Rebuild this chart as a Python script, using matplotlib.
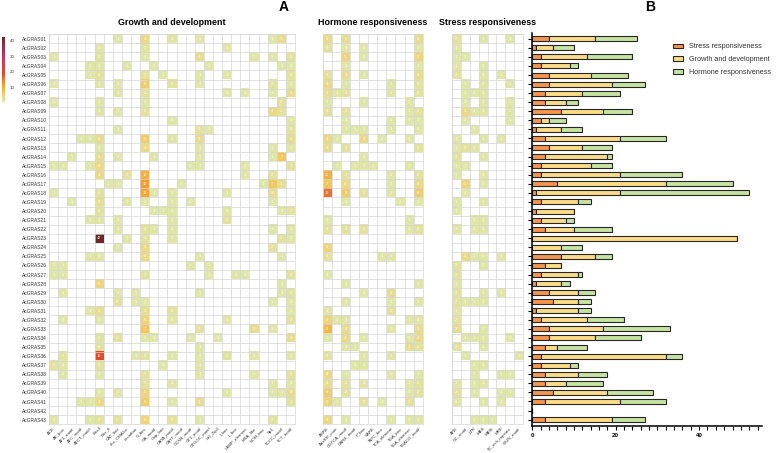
import numpy as np
import matplotlib
matplotlib.use('Agg')
import matplotlib.pyplot as plt
from matplotlib.colors import LinearSegmentedColormap, Normalize
from matplotlib.cm import ScalarMappable
from matplotlib.patches import Patch

plt.rcParams['font.family'] = ['Liberation Sans', 'DejaVu Sans']

genes = ['AcGRAS%02d' % i for i in range(1, 44)]

growth_motifs = ['ACE', 'AE_box', 'AT1_motif', 'ATC_motif', 'ATCT_motif', 'Box4',
                 'Box_II', 'CAT_box', 'chs_CMA1a', 'circadian', 'G_box', 'GA_motif',
                 'Gap_box', 'GATA_motif', 'GATT_motif', 'GCN4_motif', 'GT1_motif',
                 'GTGGC_motif', 'HD_Zip1', 'I_box', 'L_box', 'LAMP_element',
                 'MSA_like', 'NON_box', 'Sp1', 'TCCC_motif', 'TCT_motif']
hormone_motifs = ['ABRE', 'AuxRR_core', 'CGTCA_motif', 'GARE_motif', 'P_box', 'SARE',
                  'TATC_box', 'TCA_element', 'TGA_box', 'TGA_element', 'TGACG_motif']
stress_motifs = ['ARE', 'GC_motif', 'LTR', 'MBS', 'MBSI', 'MRE',
                 'TC_rich_repeats', 'WUN_motif']

# non-zero cells per gene, {column index: count}
growth_cells = [
    {7: 1, 10: 4, 13: 1, 16: 1, 24: 1, 25: 3},
    {5: 1, 10: 2, 19: 1},
    {0: 1, 5: 2, 10: 1, 16: 3, 22: 1, 24: 1, 26: 2},
    {4: 1, 5: 1, 8: 1, 11: 1, 17: 1, 25: 1, 26: 1},
    {4: 1, 5: 2, 10: 2, 12: 1, 16: 1, 19: 1, 26: 2},
    {0: 1, 5: 1, 7: 1, 10: 6, 13: 2, 16: 1, 24: 2, 26: 1},
    {7: 1, 10: 2, 19: 1, 21: 1, 24: 1, 26: 3},
    {0: 1, 5: 1, 10: 1, 25: 2},
    {5: 1, 7: 1, 10: 2, 24: 4, 25: 2},
    {13: 1, 26: 1},
    {7: 1, 16: 2, 17: 1, 26: 2},
    {3: 1, 4: 1, 5: 3, 10: 6, 13: 1, 16: 3, 26: 3},
    {5: 1, 10: 4, 16: 1, 24: 1, 26: 1},
    {2: 1, 5: 3, 7: 1, 11: 1, 16: 1, 24: 1, 25: 7},
    {0: 1, 1: 1, 4: 1, 5: 4, 15: 1, 16: 1, 21: 1, 26: 2},
    {5: 4, 8: 2, 10: 10, 21: 1, 24: 2},
    {6: 1, 7: 1, 10: 12, 14: 1, 23: 1, 24: 7, 25: 3},
    {0: 1, 5: 2, 10: 11, 11: 1, 13: 1, 19: 1, 24: 3},
    {2: 1, 5: 3, 8: 1, 10: 1, 13: 1, 15: 1, 24: 1},
    {5: 2, 11: 1, 12: 1, 13: 1, 19: 1, 25: 1, 26: 2},
    {4: 1, 5: 1, 7: 1, 13: 1, 19: 2},
    {7: 1, 10: 2, 11: 1, 13: 1, 24: 1, 26: 1},
    {5: 42, 8: 1, 10: 2, 13: 1, 25: 2, 26: 1},
    {7: 1, 10: 4, 24: 2},
    {4: 1, 5: 1, 10: 4, 16: 1, 25: 1},
    {0: 1, 1: 1, 15: 1, 17: 1},
    {0: 1, 1: 1, 10: 2, 17: 1, 20: 1, 21: 1, 26: 2},
    {5: 5, 25: 1},
    {1: 1, 7: 1, 9: 1, 16: 1, 25: 1, 26: 2},
    {7: 2, 9: 1, 10: 1, 24: 1, 26: 1},
    {4: 1, 5: 3, 10: 3, 13: 2, 26: 1},
    {1: 1, 5: 1, 10: 5, 13: 1, 19: 1, 26: 2},
    {10: 7, 16: 2, 22: 3, 24: 1},
    {5: 2, 7: 2, 10: 1, 11: 1, 15: 1, 18: 1, 26: 3},
    {5: 2, 16: 1},
    {1: 2, 5: 19, 9: 1, 10: 2, 13: 1, 16: 1, 19: 2, 22: 1, 26: 1},
    {0: 2, 1: 1, 5: 2, 12: 1, 16: 1},
    {1: 1, 5: 1, 10: 2, 16: 1, 22: 1, 26: 2},
    {10: 2, 13: 1, 24: 1, 26: 1},
    {5: 1, 7: 1, 10: 5, 19: 1, 24: 1, 25: 1, 26: 3},
    {3: 1, 4: 1, 5: 4, 10: 6, 13: 1, 16: 3, 26: 2},
    {},
    {0: 1, 4: 1, 5: 2, 7: 2, 10: 5, 13: 2, 16: 1, 24: 2},
]

hormone_cells = [
    {0: 4, 2: 3, 10: 3},
    {0: 2, 2: 1, 4: 1, 10: 1},
    {2: 5, 4: 1, 10: 5},
    {2: 1, 10: 1},
    {0: 2, 2: 3, 4: 1, 10: 3},
    {0: 4, 2: 1, 7: 1, 10: 2},
    {0: 3, 1: 1, 2: 2, 7: 1, 10: 2},
    {0: 1, 4: 1, 9: 1},
    {0: 2, 2: 2, 9: 1, 10: 2},
    {2: 1, 7: 1, 9: 1, 10: 1},
    {2: 1, 3: 1, 4: 1, 7: 1, 10: 1},
    {0: 4, 1: 1, 4: 4, 6: 1, 9: 1},
    {0: 3, 2: 2, 10: 2},
    {4: 1},
    {1: 1, 3: 1, 4: 1, 5: 1, 9: 1},
    {0: 10, 2: 2, 7: 1, 10: 2},
    {0: 7, 2: 4, 7: 1, 10: 4},
    {0: 16, 2: 6, 4: 2, 7: 1, 10: 6},
    {2: 1, 8: 1, 10: 1},
    {},
    {0: 1, 9: 1},
    {0: 2, 2: 2, 4: 2, 9: 1, 10: 2},
    {},
    {0: 5},
    {0: 2, 6: 1, 7: 1},
    {},
    {0: 1},
    {2: 1, 10: 1},
    {4: 1, 7: 3},
    {2: 1, 7: 1, 10: 1},
    {0: 1, 7: 2},
    {0: 5, 1: 1, 2: 1, 9: 1, 10: 1},
    {0: 9, 2: 3, 7: 1, 10: 3},
    {0: 1, 2: 4, 4: 1, 9: 1, 10: 4},
    {2: 1, 3: 1, 9: 3, 10: 2},
    {0: 2, 4: 1, 7: 1},
    {3: 1, 4: 1},
    {0: 4, 2: 1, 7: 1, 10: 1},
    {0: 3, 2: 2, 4: 1, 9: 1, 10: 2},
    {0: 6, 2: 2, 9: 1, 10: 2},
    {0: 5, 1: 1, 4: 2, 6: 1, 9: 2},
    {},
    {0: 4, 2: 1, 7: 1, 9: 1, 10: 1},
]

stress_cells = [
    {0: 2, 3: 1, 6: 1}, {0: 1}, {0: 1, 1: 1}, {0: 1, 3: 1}, {0: 2, 3: 1, 5: 1},
    {1: 1, 3: 2, 6: 1}, {1: 1, 2: 1, 3: 1}, {1: 1, 3: 1, 6: 1}, {1: 4, 2: 1, 3: 1, 6: 1},
    {1: 1, 6: 1}, {2: 1}, {0: 1, 3: 1, 5: 1}, {0: 1, 1: 2, 2: 1}, {0: 2, 3: 1},
    {0: 1, 1: 1}, {0: 1, 3: 1}, {1: 5, 3: 1}, {1: 1}, {0: 1, 3: 1}, {0: 1},
    {2: 1, 3: 1}, {0: 1, 2: 1, 3: 1}, {}, {}, {1: 4, 2: 1, 3: 1, 5: 1},
    {0: 2, 3: 1}, {0: 2}, {0: 1}, {0: 2, 3: 1, 5: 1}, {0: 2, 1: 1, 2: 1, 3: 1},
    {0: 1}, {0: 2}, {0: 3, 3: 1}, {1: 1, 2: 1, 3: 1, 6: 1}, {0: 2, 3: 1},
    {1: 1, 7: 1}, {2: 1, 3: 1}, {2: 1, 5: 1, 6: 1}, {0: 1, 2: 1, 3: 1},
    {0: 2, 2: 1, 5: 1, 6: 1}, {0: 1, 3: 1, 5: 1}, {}, {2: 1, 3: 1, 4: 1},
]

# totals per gene for the stacked bars (panel B)
stress_total = [4, 1, 2, 2, 4, 4, 3, 3, 7, 2, 1, 3, 4, 3, 2, 2, 6, 1, 2, 1, 2, 3,
                0, 0, 7, 3, 2, 1, 4, 5, 1, 2, 4, 4, 3, 2, 2, 3, 3, 5, 3, 0, 3]
growth_total = [11, 4, 11, 7, 10, 15, 9, 5, 10, 2, 6, 18, 8, 15, 12, 19, 26, 20, 9, 9, 6, 7,
                49, 7, 8, 4, 9, 6, 7, 6, 10, 11, 13, 11, 3, 30, 7, 8, 5, 13, 18, 0, 16]
hormone_total = [10, 5, 11, 2, 9, 8, 9, 3, 7, 4, 5, 11, 7, 1, 5, 15, 16, 31, 3, 0, 2, 9,
                 0, 5, 4, 0, 1, 2, 4, 3, 3, 9, 16, 11, 7, 4, 2, 7, 9, 11, 11, 0, 8]


def to_matrix(cells, ncol):
    m = np.zeros((len(cells), ncol))
    for i, row in enumerate(cells):
        for j, v in row.items():
            m[i, j] = v
    return m


cmap = LinearSegmentedColormap.from_list('cre', [
    (0.0, '#dfe6a8'), (0.1, '#efd47a'), (0.195, '#f5b940'), (0.29, '#f5952c'),
    (0.44, '#e8482a'), (0.71, '#c5326c'), (1.0, '#6b2626')])
cmap.set_bad('white')
norm = Normalize(vmin=1, vmax=42)

W, H = 777, 453
fig = plt.figure(figsize=(W / 100, H / 100), dpi=100)


def px_axes(x0, y0, x1, y1):
    return fig.add_axes([x0 / W, 1 - y1 / H, (x1 - x0) / W, (y1 - y0) / H])


GRID_TOP, GRID_BOT = 34.2, 424.2


def draw_heat(ax, mat, motifs, title, row_labels=None):
    nr, nc = mat.shape
    ax.imshow(np.ma.masked_equal(mat, 0), cmap=cmap, norm=norm,
              aspect='auto', interpolation='nearest')
    ax.set_xticks(np.arange(nc))
    ax.set_xticklabels(motifs, rotation=45, ha='right', rotation_mode='anchor',
                       fontsize=3.2, color='#333333')
    if row_labels is not None:
        ax.set_yticks(np.arange(nr))
        ax.set_yticklabels(row_labels, fontsize=3.5, color='#333333')
    else:
        ax.set_yticks([])
    ax.set_xticks(np.arange(-0.5, nc), minor=True)
    ax.set_yticks(np.arange(-0.5, nr), minor=True)
    ax.grid(which='minor', color='#d6d6d6', linewidth=0.5)
    ax.tick_params(which='both', length=0, pad=1.5)
    for s in ax.spines.values():
        s.set_color('#d6d6d6')
        s.set_linewidth(0.5)
    for i, j in zip(*np.nonzero(mat)):
        ax.text(j, i, '%d' % mat[i, j], ha='center', va='center',
                fontsize=2.8, color='white')
    ax.text(0.5, 1 + 11.5 / (GRID_BOT - GRID_TOP), title, transform=ax.transAxes,
            ha='center', va='center', fontsize=6.4, fontweight='bold')


ax_g = px_axes(49, GRID_TOP, 295, GRID_BOT)
draw_heat(ax_g, to_matrix(growth_cells, len(growth_motifs)), growth_motifs,
          'Growth and development', genes)

ax_h = px_axes(322.7, GRID_TOP, 422.7, GRID_BOT)
draw_heat(ax_h, to_matrix(hormone_cells, len(hormone_motifs)), hormone_motifs,
          'Hormone responsiveness')

ax_s = px_axes(451.7, GRID_TOP, 523.3, GRID_BOT)
draw_heat(ax_s, to_matrix(stress_cells, len(stress_motifs)), stress_motifs,
          'Stress responsiveness')

# colour scale
cax = px_axes(1.7, 37, 5.3, 102)
cb = fig.colorbar(ScalarMappable(norm=norm, cmap=cmap), cax=cax, ticks=[10, 20, 30, 40])
cb.outline.set_visible(False)
cax.tick_params(labelsize=3.2, length=0, pad=3, colors='#333333')

# stacked bars
ax_b = px_axes(532.3, 33, 761.7, 426)
y = np.arange(len(genes))
s = np.array(stress_total)
g = np.array(growth_total)
h = np.array(hormone_total)
c_s, c_g, c_h = '#f5964f', '#fcdc86', '#c6e3a2'
kw = dict(height=0.55, edgecolor='#262626', linewidth=0.8)
ax_b.barh(y, s, color=c_s, **kw)
ax_b.barh(y, g, left=s, color=c_g, **kw)
ax_b.barh(y, h, left=s + g, color=c_h, **kw)
ax_b.set_xlim(0, 55)
ax_b.set_ylim(42 + (426 - 419.6) / 9.07, -0.5 - (34.2 - 33) / 9.07)
ax_b.set_yticks(y)
ax_b.set_yticklabels([])
ax_b.set_xticks([0, 20, 40])
ax_b.set_xticks(np.arange(0, 55, 2), minor=True)
ax_b.tick_params(axis='y', length=3, width=0.8, direction='out')
ax_b.tick_params(axis='x', which='both', length=3, width=0.8, labelsize=4.5, pad=2)
for lab in ax_b.get_xticklabels():
    lab.set_fontweight('bold')
for side in ['top', 'right']:
    ax_b.spines[side].set_visible(False)
for side in ['left', 'bottom']:
    ax_b.spines[side].set_linewidth(1.1)

handles = [Patch(facecolor=c_s, edgecolor='#262626', linewidth=0.8),
           Patch(facecolor=c_g, edgecolor='#262626', linewidth=0.8),
           Patch(facecolor=c_h, edgecolor='#262626', linewidth=0.8)]
fig.legend(handles, ['Stress responsiveness', 'Growth and development',
                     'Hormone responsiveness'],
           loc='upper left', bbox_to_anchor=(666 / W, 1 - 37 / H), frameon=False,
           fontsize=5.2, handlelength=1.5, handleheight=0.6, labelspacing=0.8,
           handletextpad=0.8, labelcolor='#333333')

fig.text(284 / W, 1 - 7 / H, 'A', fontsize=10, fontweight='bold', ha='center', va='center')
fig.text(650 / W, 1 - 7 / H, 'B', fontsize=10, fontweight='bold', ha='center', va='center')

fig.savefig('out.png', dpi=100)
